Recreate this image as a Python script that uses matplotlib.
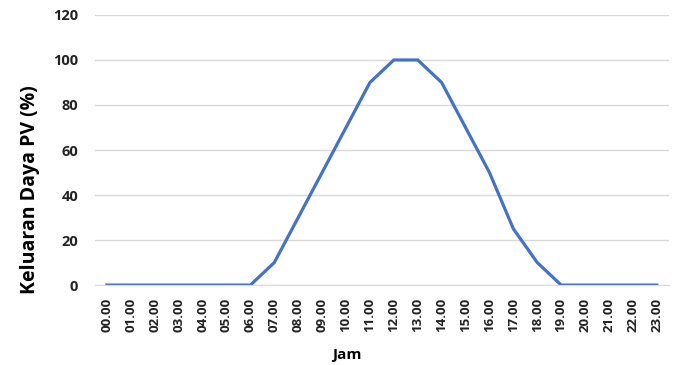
import matplotlib.pyplot as plt
import numpy as np

jam = [f"{h:02d}.00" for h in range(24)]
keluaran = [0, 0, 0, 0, 0, 0, 0, 10, 30, 50, 70, 90, 100, 100, 90, 70, 50, 25, 10, 0, 0, 0, 0, 0]

plt.rcParams["font.family"] = ["Open Sans", "DejaVu Sans"]

fig = plt.figure(figsize=(6.81, 3.65), dpi=100)
ax = fig.add_axes([0.1395, 0.219, 0.8425, 0.74])

x = np.arange(len(jam))
ax.plot(x, keluaran, color="#4472C4", linewidth=2.3, solid_joinstyle="miter")

ax.set_xlim(-0.5, len(jam) - 0.5)
ax.set_ylim(0, 120)
ax.set_yticks(range(0, 121, 20))
ax.set_xticks(x)
ax.set_xticklabels(jam, rotation=90, fontsize=9.5, fontweight="bold", color="#222222")
for lab in ax.get_yticklabels():
    lab.set_fontsize(10.5)
    lab.set_fontweight("bold")
    lab.set_color("#222222")

ax.grid(True, axis="y", color="#D9D9D9", linewidth=1.0)
ax.set_axisbelow(True)
for side in ["top", "right", "left"]:
    ax.spines[side].set_visible(False)
ax.spines["bottom"].set_color("#D9D9D9")
ax.tick_params(axis="both", length=0)
ax.tick_params(axis="y", pad=12)
ax.tick_params(axis="x", pad=9)

ax.set_xlabel("Jam", fontsize=11, fontweight="bold", va="center")
ax.set_ylabel("Keluaran Daya PV (%)", fontsize=14, fontweight="bold", va="center")
ax.xaxis.set_label_coords(0.439, -0.259)
ax.yaxis.set_label_coords(-0.113, 0.352)

fig.savefig("out.png", dpi=100)
